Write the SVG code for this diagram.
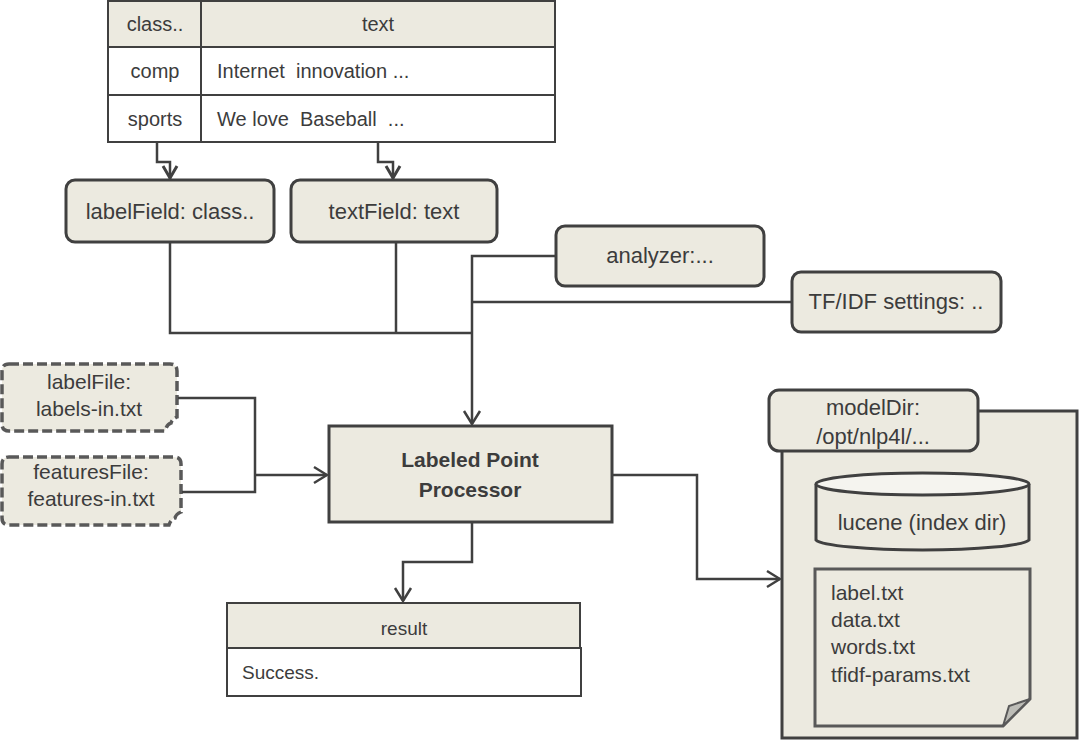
<svg xmlns="http://www.w3.org/2000/svg" width="1079" height="748" viewBox="0 0 1079 748">
<style>
text{font-family:"Liberation Sans",Arial,sans-serif;fill:#3c3c3c}
.box{fill:#ECEAE0;stroke:#404040;stroke-width:3}
.tbl{stroke:#404040;stroke-width:2}
.hdr{fill:#ECEAE0}
.cell{fill:#ffffff}
.dash{fill:#ECEAE0;stroke:#595959;stroke-width:3.5;stroke-dasharray:10 4}
.con{fill:none;stroke:#404040;stroke-width:2.5}
.t19{font-size:19px}
.t20{font-size:20px}
.t21{font-size:21px}
.t22{font-size:22px}
.mid{text-anchor:middle}
</style>
<defs>
<marker id="arr" viewBox="0 0 16 20" refX="15" refY="10" markerWidth="16" markerHeight="20" markerUnits="userSpaceOnUse" orient="auto">
<path d="M2,2 L15,10 L2,18" fill="none" stroke="#404040" stroke-width="2.5"/>
</marker>
<marker id="arr2" viewBox="0 0 16 18" refX="15" refY="9" markerWidth="16" markerHeight="18" markerUnits="userSpaceOnUse" orient="auto">
<path d="M2,2 L14,9 L2,16" fill="none" stroke="#404040" stroke-width="3"/>
</marker>
</defs>

<g id="input-table">
<rect class="tbl hdr" x="108" y="1" width="447" height="46"/>
<rect class="tbl cell" x="108" y="47" width="447" height="48"/>
<rect class="tbl cell" x="108" y="95" width="447" height="47"/>
<line class="tbl" x1="201" y1="1" x2="201" y2="142"/>
<text class="t20 mid" x="155" y="31">class..</text>
<text class="t20 mid" x="378" y="31">text</text>
<text class="t20 mid" x="155" y="78">comp</text>
<text class="t20" x="217" y="78" xml:space="preserve">Internet  innovation ...</text>
<text class="t20 mid" x="155" y="126">sports</text>
<text class="t20" x="217" y="126" xml:space="preserve">We love  Baseball  ...</text>
</g>

<g id="labelField">
<rect class="box" x="66" y="180" width="208" height="62" rx="9"/>
<text class="t22 mid" x="170" y="219">labelField: class..</text>
</g>

<g id="textField">
<rect class="box" x="291" y="180" width="206" height="62" rx="9"/>
<text class="t22 mid" x="394" y="219">textField: text</text>
</g>

<g id="analyzer">
<rect class="box" x="556" y="226" width="208" height="60" rx="9"/>
<text class="t22 mid" x="660" y="263">analyzer:...</text>
</g>

<g id="tfidf">
<rect class="box" x="792" y="272" width="209" height="60" rx="9"/>
<text class="t22 mid" x="896" y="309">TF/IDF settings: ..</text>
</g>

<g id="labelFile">
<path class="dash" d="M9,364 H170 Q177,364 177,371 V417 Q172,419 171,423 Q167,424 165,431 H9 Q2,431 2,424 V371 Q2,364 9,364 Z"/>
<text class="t21 mid" x="89" y="389">labelFile:</text>
<text class="t21 mid" x="89" y="416">labels-in.txt</text>
</g>

<g id="featuresFile">
<path class="dash" d="M9,457 H174 Q181,457 181,464 V512 Q176,514 175,518 Q171,519 169,525 H9 Q2,525 2,518 V464 Q2,457 9,457 Z"/>
<text class="t21 mid" x="91" y="479">featuresFile:</text>
<text class="t21 mid" x="91" y="506">features-in.txt</text>
</g>

<g id="processor">
<rect class="box" x="329" y="426" width="283" height="96"/>
<text class="t21 mid" x="470" y="467" font-weight="bold">Labeled Point</text>
<text class="t21 mid" x="470" y="497" font-weight="bold">Processor</text>
</g>

<g id="result">
<rect class="tbl hdr" x="227" y="603" width="353" height="45"/>
<rect class="tbl cell" x="227" y="648" width="354" height="48"/>
<text class="t19 mid" x="404" y="635">result</text>
<text class="t19" x="242" y="679">Success.</text>
</g>

<g id="modelDir">
<rect class="box" x="782" y="411" width="295" height="327"/>
<rect class="box" x="769" y="390" width="209" height="61" rx="10"/>
<text class="t22 mid" x="873" y="415">modelDir:</text>
<text class="t22 mid" x="873" y="444">/opt/nlp4l/...</text>
<g id="lucene">
<path d="M816,484 V540 A107,11 0 0 0 1029,540 V484" fill="#ECEAE0" stroke="#404040" stroke-width="3"/>
<ellipse cx="922.5" cy="484" rx="106.5" ry="11" fill="#F5F4EF" stroke="#404040" stroke-width="3"/>
<text class="t22 mid" x="922" y="530">lucene (index dir)</text>
</g>
<g id="files">
<path d="M815,569 H1030 V699 L1003,726 H815 Z" fill="#ECEAE0" stroke="#595959" stroke-width="3"/>
<path d="M1003,726 L1009,706 L1030,699 Z" fill="#BDBDB7" stroke="#595959" stroke-width="2"/>
<text class="t21" x="831" y="600">label.txt</text>
<text class="t21" x="831" y="627">data.txt</text>
<text class="t21" x="831" y="654">words.txt</text>
<text class="t21" x="831" y="682">tfidf-params.txt</text>
</g>
</g>

<g id="connectors">
<path class="con" d="M157,142 V162 H170 V179" stroke-width="3" marker-end="url(#arr2)"/>
<path class="con" d="M378,142 V162 H393 V179" stroke-width="3" marker-end="url(#arr2)"/>
<path class="con" d="M170,242 V333 H472"/>
<path class="con" d="M396,242 V333"/>
<path class="con" d="M556,256 H472 V424" marker-end="url(#arr)"/>
<path class="con" d="M792,302 H472"/>
<path class="con" d="M178,398 H255 V492 H182"/>
<path class="con" d="M255,475 H327" marker-end="url(#arr)"/>
<path class="con" d="M472,522 V562 H403 V601" marker-end="url(#arr)"/>
<path class="con" d="M612,475 H697 V579 H780" marker-end="url(#arr)"/>
</g>
</svg>
